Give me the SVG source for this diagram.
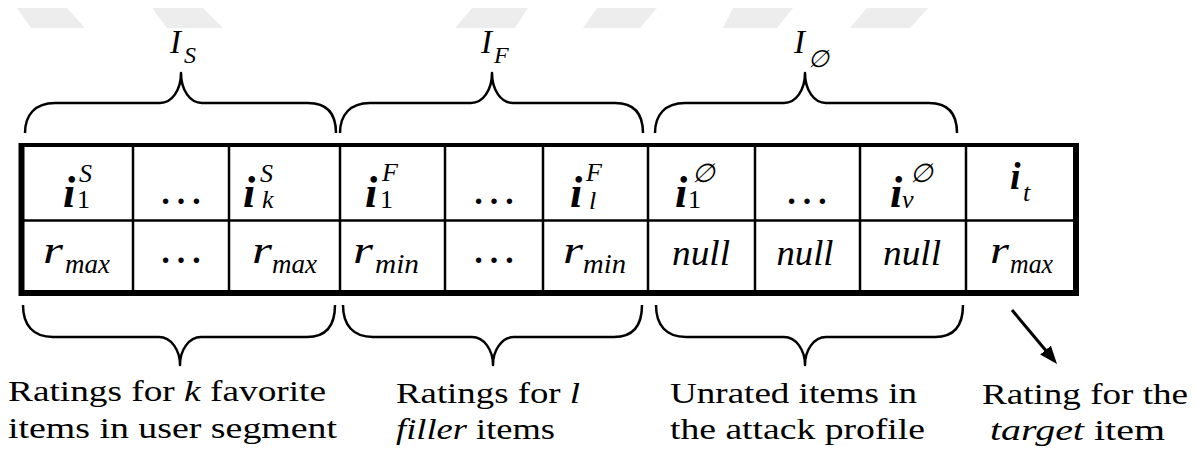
<svg xmlns="http://www.w3.org/2000/svg" width="1200" height="452" viewBox="0 0 1200 452">
<style>
.it{font-style:italic}
.bi{font-style:italic;font-weight:bold;font-size:44px}
.sup{font-style:italic;font-size:26px}
.sub{font-size:26px}
.subi{font-style:italic;font-size:26px}
.r{font-style:italic;font-size:38px}
.rs{font-style:italic;font-size:28px}
.dots{font-size:46px;text-anchor:middle}
.null{font-style:italic;font-size:35px;text-anchor:middle}
.lab{font-size:30px}
.hdr{font-style:italic;font-size:33px}
.hsub{font-style:italic;font-size:24px}
.grid{stroke:#000;stroke-width:2.5;fill:none}
.brace{stroke:#000;stroke-width:2.5;fill:none;stroke-linejoin:round}
.wm{fill:#ededed}
</style>
<defs>
<marker id="ah" markerUnits="userSpaceOnUse" viewBox="0 0 18 14" refX="10" refY="7" markerWidth="18" markerHeight="14" orient="auto">
<path d="M0,0 L18,7 L0,14 z" fill="#000"/>
</marker>
</defs>
<rect width="1200" height="452" fill="#fff"/>
<g id="watermark">
<polygon class="wm" points="17,8 67,8 85,28 31,28"/>
<polygon class="wm" points="152,8 203,8 223,28 167,28"/>
<polygon class="wm" points="472,8 528,8 515,28 455,28"/>
<polygon class="wm" points="597,8 657,8 640,28 583,28"/>
<polygon class="wm" points="733,8 793,8 777,28 723,28"/>
<polygon class="wm" points="867,8 928,8 910,28 850,28"/>
</g>
<g id="table">
<rect x="21" y="145" width="1055" height="147" fill="none" stroke="#000" stroke-width="4"/>
<line x1="21.5" y1="143" x2="21.5" y2="296" stroke="#000" stroke-width="6"/>
<line x1="19" y1="293" x2="1079" y2="293" stroke="#000" stroke-width="6"/>
<line x1="1076" y1="143" x2="1076" y2="296" stroke="#000" stroke-width="6"/>
<line class="grid" x1="21" y1="220.5" x2="1076" y2="220.5"/>
<path class="grid" d="M133,145V292M229,145V292M340,145V292M445,145V292M543,145V292M648,145V292M755,145V292M860,145V292M966,145V292"/>
</g>
<g id="cell-iS1"><text font-family="Liberation Serif"><tspan class="bi" x="63" y="207">i</tspan><tspan class="sup" x="79" y="182">S</tspan><tspan class="sub" x="77" y="208">1</tspan></text></g>
<g id="cell-dots1"><text font-family="Liberation Serif" class="dots" x="181" y="204">…</text></g>
<g id="cell-iSk"><text font-family="Liberation Serif"><tspan class="bi" x="243" y="207">i</tspan><tspan class="sup" x="260" y="182">S</tspan><tspan class="subi" x="262" y="208">k</tspan></text></g>
<g id="cell-iF1"><text font-family="Liberation Serif"><tspan class="bi" x="365" y="207">i</tspan><tspan class="sup" x="382" y="181">F</tspan><tspan class="sub" x="380" y="208">1</tspan></text></g>
<g id="cell-dots2"><text font-family="Liberation Serif" class="dots" x="494" y="204">…</text></g>
<g id="cell-iFl"><text font-family="Liberation Serif"><tspan class="bi" x="570" y="207">i</tspan><tspan class="sup" x="586" y="181">F</tspan><tspan class="subi" x="589" y="209">l</tspan></text></g>
<g id="cell-iN1"><text font-family="Liberation Serif"><tspan class="bi" x="675" y="207">i</tspan><tspan class="sup" x="692" y="182">∅</tspan><tspan class="sub" x="688" y="208">1</tspan></text></g>
<g id="cell-dots3"><text font-family="Liberation Serif" class="dots" x="807" y="204">…</text></g>
<g id="cell-iNv"><text font-family="Liberation Serif"><tspan class="bi" x="890" y="207">i</tspan><tspan class="sup" x="910" y="182">∅</tspan><tspan class="subi" x="902" y="208">v</tspan></text></g>
<g id="cell-it"><text font-family="Liberation Serif"><tspan class="bi" style="font-size:38px" x="1010" y="189">i</tspan><tspan class="subi" x="1023" y="201">t</tspan></text></g>
<g id="cell-rmax1"><text font-family="Liberation Serif" class="r" x="43" y="263" textLength="20" lengthAdjust="spacingAndGlyphs">r</text><text font-family="Liberation Serif" class="rs" x="65" y="273" textLength="45" lengthAdjust="spacingAndGlyphs">max</text></g>
<g id="cell-dots4"><text font-family="Liberation Serif" class="dots" x="181" y="263">…</text></g>
<g id="cell-rmax2"><text font-family="Liberation Serif" class="r" x="252" y="263" textLength="20" lengthAdjust="spacingAndGlyphs">r</text><text font-family="Liberation Serif" class="rs" x="272" y="273" textLength="45" lengthAdjust="spacingAndGlyphs">max</text></g>
<g id="cell-rmin1"><text font-family="Liberation Serif" class="r" x="353" y="263" textLength="20" lengthAdjust="spacingAndGlyphs">r</text><text font-family="Liberation Serif" class="rs" x="375" y="273" textLength="44" lengthAdjust="spacingAndGlyphs">min</text></g>
<g id="cell-dots5"><text font-family="Liberation Serif" class="dots" x="494" y="263">…</text></g>
<g id="cell-rmin2"><text font-family="Liberation Serif" class="r" x="563" y="263" textLength="20" lengthAdjust="spacingAndGlyphs">r</text><text font-family="Liberation Serif" class="rs" x="583" y="273" textLength="43" lengthAdjust="spacingAndGlyphs">min</text></g>
<g id="cell-null1"><text font-family="Liberation Serif" class="null" x="701" y="265" textLength="58" lengthAdjust="spacingAndGlyphs">null</text></g>
<g id="cell-null2"><text font-family="Liberation Serif" class="null" x="805" y="265" textLength="57" lengthAdjust="spacingAndGlyphs">null</text></g>
<g id="cell-null3"><text font-family="Liberation Serif" class="null" x="912" y="265" textLength="58" lengthAdjust="spacingAndGlyphs">null</text></g>
<g id="cell-rmax3"><text font-family="Liberation Serif" class="r" x="990" y="263" textLength="19" lengthAdjust="spacingAndGlyphs">r</text><text font-family="Liberation Serif" class="rs" x="1010" y="273" textLength="43" lengthAdjust="spacingAndGlyphs">max</text></g>
<g id="label-IS"><text font-family="Liberation Serif"><tspan class="hdr" x="170" y="53">I</tspan><tspan class="hsub" x="184" y="63">S</tspan></text></g>
<g id="label-IF"><text font-family="Liberation Serif"><tspan class="hdr" x="481" y="53">I</tspan><tspan class="hsub" x="494" y="63">F</tspan></text></g>
<g id="label-IN"><text font-family="Liberation Serif"><tspan class="hdr" x="794" y="53">I</tspan><tspan class="hsub" x="808" y="67">∅</tspan></text></g>
<g id="label-favorite">
<text font-family="Liberation Serif" class="lab" x="8" y="401" textLength="318" lengthAdjust="spacingAndGlyphs">Ratings for <tspan class="it">k</tspan> favorite</text>
<text font-family="Liberation Serif" class="lab" x="8" y="438" textLength="329" lengthAdjust="spacingAndGlyphs">items in user segment</text>
</g>
<g id="label-filler">
<text font-family="Liberation Serif" class="lab" x="396" y="403" textLength="184" lengthAdjust="spacingAndGlyphs">Ratings for <tspan class="it">l</tspan></text>
<text font-family="Liberation Serif" class="lab" x="396" y="439" textLength="159" lengthAdjust="spacingAndGlyphs"><tspan class="it">filler</tspan> items</text>
</g>
<g id="label-unrated">
<text font-family="Liberation Serif" class="lab" x="670" y="403" textLength="247" lengthAdjust="spacingAndGlyphs">Unrated items in</text>
<text font-family="Liberation Serif" class="lab" x="670" y="439" textLength="255" lengthAdjust="spacingAndGlyphs">the attack profile</text>
</g>
<g id="label-target">
<text font-family="Liberation Serif" class="lab" x="982" y="404" textLength="206" lengthAdjust="spacingAndGlyphs">Rating for the</text>
<text font-family="Liberation Serif" class="lab" x="990" y="440" textLength="175" lengthAdjust="spacingAndGlyphs"><tspan class="it">target</tspan> item</text>
</g>
<g id="connectors">
<path class="brace" d="M25,133 C25,115 35,103 55,103 L160,103 C172,103 181,90 181,73 C181,90 190,103 202,103 L308,103 C328,103 336,115 336,133"/>
<path class="brace" d="M340,133 C340,115 350,103 370,103 L471,103 C483,103 492,90 492,73 C492,90 501,103 513,103 L615,103 C635,103 643,115 643,133"/>
<path class="brace" d="M655,133 C655,115 665,103 685,103 L784,103 C796,103 805,90 805,73 C805,90 814,103 826,103 L929,103 C949,103 957,115 957,133"/>
<path class="brace" d="M23,305 C23,325 33,337 53,337 L159,337 C171,337 180,350 180,365 C180,350 189,337 201,337 L307,337 C327,337 335,325 335,305"/>
<path class="brace" d="M343,305 C343,325 353,337 373,337 L472,337 C484,337 493,350 493,365 C493,350 502,337 514,337 L614,337 C634,337 642,325 642,305"/>
<path class="brace" d="M656,305 C656,325 666,337 686,337 L784,337 C796,337 805,350 805,365 C805,350 814,337 826,337 L935,337 C955,337 963,325 963,305"/>
<line x1="1012" y1="310" x2="1051.9" y2="357.8" stroke="#000" stroke-width="3" marker-end="url(#ah)"/>
</g>
</svg>
